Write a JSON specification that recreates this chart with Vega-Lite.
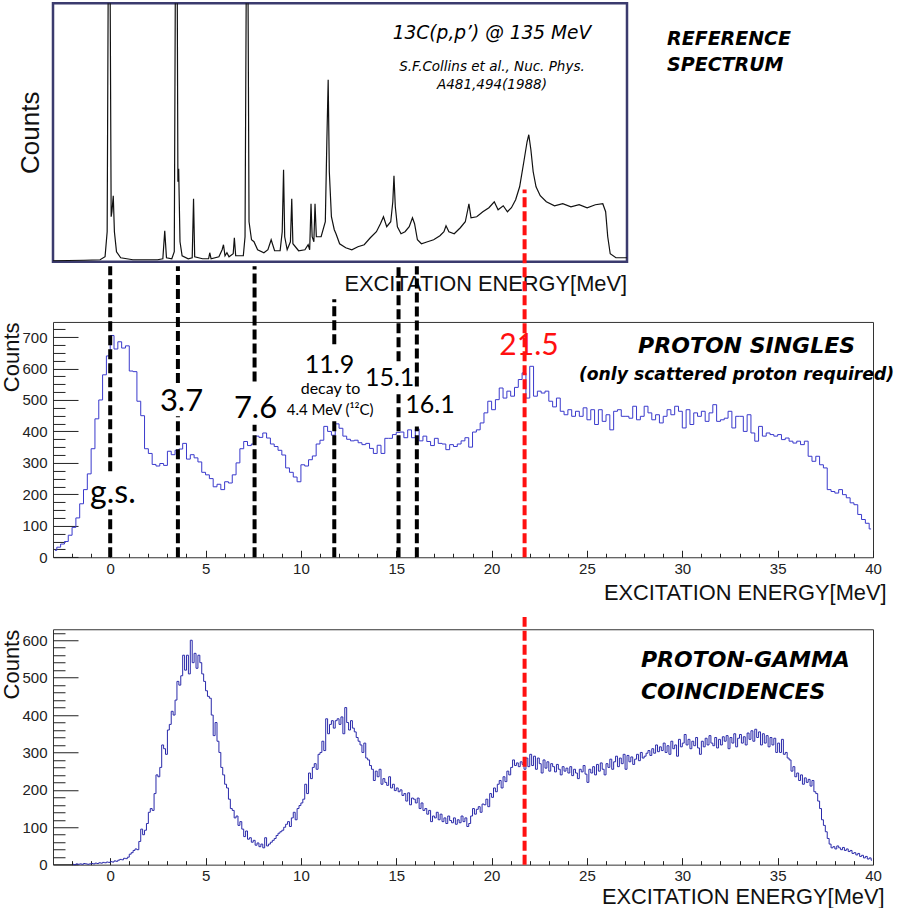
{
  "$schema": "https://vega.github.io/schema/vega-lite/v6.json",
  "padding": {"left": 0, "top": 1.25, "right": 0, "bottom": 0},
  "background": "white",
  "config": {
    "view": {"stroke": "#333", "strokeWidth": 1},
    "axis": {"grid": false, "domain": false, "labelFlush": false, "labelOverlap": false, "tickColor": "#222", "labelColor": "#222", "titleColor": "#111", "labelFont": "Liberation Sans Narrow, Liberation Sans", "labelFontSize": 15, "titleFont": "Liberation Sans", "titleFontWeight": "normal"},
    "text": {"font": "Lato", "color": "black"}
  },
  "datasets": {
    "refspec": [
      {"E":-3.0,"v":1},{"E":-1.38,"v":1.5},{"E":-0.53,"v":2},{"E":-0.27,"v":5},{"E":-0.16,"v":30},{"E":-0.10,"v":300},{"E":-0.01,"v":300},{"E":0.05,"v":45},{"E":0.09,"v":50},{"E":0.16,"v":66},{"E":0.22,"v":30},{"E":0.33,"v":10},{"E":0.55,"v":4},{"E":1.19,"v":2},{"E":1.83,"v":2},{"E":2.48,"v":2},{"E":2.76,"v":3},{"E":2.86,"v":31},{"E":2.95,"v":4},{"E":3.23,"v":3},{"E":3.36,"v":10},{"E":3.42,"v":300},{"E":3.51,"v":300},{"E":3.55,"v":80},{"E":3.59,"v":93},{"E":3.66,"v":20},{"E":3.77,"v":6},{"E":4.09,"v":3},{"E":4.30,"v":4},{"E":4.37,"v":63},{"E":4.43,"v":5},{"E":4.84,"v":3},{"E":5.16,"v":3},{"E":5.22,"v":9},{"E":5.29,"v":3},{"E":5.70,"v":5},{"E":5.87,"v":12},{"E":5.94,"v":17},{"E":6.02,"v":6},{"E":6.12,"v":9},{"E":6.23,"v":5},{"E":6.45,"v":8},{"E":6.51,"v":24},{"E":6.58,"v":6},{"E":6.98,"v":6},{"E":7.07,"v":25},{"E":7.14,"v":300},{"E":7.22,"v":300},{"E":7.28,"v":40},{"E":7.41,"v":22},{"E":7.54,"v":20},{"E":7.73,"v":12},{"E":8.06,"v":9},{"E":8.27,"v":12},{"E":8.44,"v":22},{"E":8.62,"v":11},{"E":8.91,"v":11},{"E":9.02,"v":30},{"E":9.09,"v":92},{"E":9.15,"v":25},{"E":9.28,"v":12},{"E":9.45,"v":20},{"E":9.52,"v":63},{"E":9.58,"v":18},{"E":9.88,"v":11},{"E":10.21,"v":12},{"E":10.38,"v":17},{"E":10.46,"v":12},{"E":10.53,"v":58},{"E":10.59,"v":25},{"E":10.68,"v":20},{"E":10.74,"v":58},{"E":10.81,"v":25},{"E":11.06,"v":25},{"E":11.28,"v":40},{"E":11.36,"v":120},{"E":11.43,"v":182},{"E":11.49,"v":90},{"E":11.60,"v":45},{"E":11.75,"v":32},{"E":11.84,"v":28},{"E":12.03,"v":18},{"E":12.35,"v":14},{"E":12.67,"v":12},{"E":12.99,"v":15},{"E":13.32,"v":17},{"E":13.64,"v":24},{"E":13.96,"v":30},{"E":14.17,"v":38},{"E":14.33,"v":45},{"E":14.50,"v":35},{"E":14.71,"v":40},{"E":14.82,"v":60},{"E":14.88,"v":86},{"E":14.95,"v":55},{"E":15.06,"v":35},{"E":15.25,"v":28},{"E":15.46,"v":30},{"E":15.68,"v":35},{"E":15.85,"v":44},{"E":15.96,"v":38},{"E":16.11,"v":22},{"E":16.32,"v":18},{"E":16.64,"v":20},{"E":16.96,"v":22},{"E":17.29,"v":26},{"E":17.50,"v":30},{"E":17.61,"v":36},{"E":17.76,"v":30},{"E":18.04,"v":28},{"E":18.36,"v":34},{"E":18.62,"v":40},{"E":18.75,"v":52},{"E":18.81,"v":58},{"E":18.92,"v":44},{"E":19.22,"v":45},{"E":19.54,"v":50},{"E":19.86,"v":54},{"E":20.14,"v":60},{"E":20.34,"v":52},{"E":20.61,"v":56},{"E":20.83,"v":50},{"E":21.04,"v":54},{"E":21.26,"v":62},{"E":21.47,"v":75},{"E":21.69,"v":100},{"E":21.86,"v":120},{"E":21.95,"v":127},{"E":22.06,"v":112},{"E":22.18,"v":90},{"E":22.33,"v":75},{"E":22.55,"v":66},{"E":22.87,"v":60},{"E":23.30,"v":56},{"E":23.73,"v":58},{"E":24.16,"v":55},{"E":24.59,"v":57},{"E":25.01,"v":54},{"E":25.44,"v":57},{"E":25.83,"v":58},{"E":25.98,"v":50},{"E":26.09,"v":25},{"E":26.22,"v":8},{"E":26.52,"v":4},{"E":27.16,"v":4}
    ],
    "singles": [
      {"E":-2.9,"n":22},{"E":-2.7,"n":32},{"E":-2.5,"n":42},{"E":-2.3,"n":50},{"E":-2.1,"n":70},
      {"E":-1.9,"n":95},{"E":-1.7,"n":125},{"E":-1.5,"n":170},{"E":-1.3,"n":215},{"E":-1.1,"n":265},
      {"E":-0.9,"n":345},{"E":-0.7,"n":440},{"E":-0.5,"n":500},{"E":-0.3,"n":580},{"E":-0.1,"n":640},
      {"E":0.1,"n":705},{"E":0.3,"n":662},{"E":0.5,"n":685},{"E":0.7,"n":665},{"E":0.9,"n":672},
      {"E":1.1,"n":592},{"E":1.3,"n":590},{"E":1.5,"n":496},{"E":1.7,"n":450},{"E":1.9,"n":345},
      {"E":2.1,"n":330},{"E":2.3,"n":295},{"E":2.5,"n":290},{"E":2.7,"n":298},{"E":2.9,"n":292},
      {"E":3.1,"n":337},{"E":3.3,"n":326},{"E":3.5,"n":340},{"E":3.7,"n":344},{"E":3.9,"n":362},
      {"E":4.1,"n":312},{"E":4.3,"n":326},{"E":4.5,"n":316},{"E":4.7,"n":303},{"E":4.9,"n":270},
      {"E":5.1,"n":262},{"E":5.3,"n":250},{"E":5.5,"n":224},{"E":5.7,"n":232},{"E":5.9,"n":215},
      {"E":6.1,"n":240},{"E":6.3,"n":236},{"E":6.5,"n":262},{"E":6.7,"n":300},{"E":6.9,"n":345},
      {"E":7.1,"n":368},{"E":7.3,"n":355},{"E":7.5,"n":360},{"E":7.7,"n":385},{"E":7.9,"n":381},
      {"E":8.1,"n":395},{"E":8.3,"n":379},{"E":8.5,"n":360},{"E":8.7,"n":352},{"E":8.9,"n":340},
      {"E":9.1,"n":325},{"E":9.3,"n":284},{"E":9.5,"n":270},{"E":9.7,"n":255},{"E":9.9,"n":240},
      {"E":10.1,"n":294},{"E":10.3,"n":290},{"E":10.5,"n":310},{"E":10.7,"n":322},{"E":10.9,"n":360},
      {"E":11.1,"n":372},{"E":11.3,"n":416},{"E":11.5,"n":400},{"E":11.7,"n":388},{"E":11.9,"n":424},
      {"E":12.1,"n":410},{"E":12.3,"n":385},{"E":12.5,"n":375},{"E":12.7,"n":370},{"E":12.9,"n":372},
      {"E":13.1,"n":364},{"E":13.3,"n":358},{"E":13.5,"n":362},{"E":13.7,"n":346},{"E":13.9,"n":330},
      {"E":14.1,"n":356},{"E":14.3,"n":330},{"E":14.5,"n":378},{"E":14.7,"n":378},{"E":14.9,"n":390},
      {"E":15.1,"n":397},{"E":15.3,"n":398},{"E":15.5,"n":380},{"E":15.7,"n":405},{"E":15.9,"n":380},
      {"E":16.1,"n":408},{"E":16.3,"n":370},{"E":16.5,"n":385},{"E":16.7,"n":368},{"E":16.9,"n":355},
      {"E":17.1,"n":378},{"E":17.3,"n":362},{"E":17.5,"n":360},{"E":17.7,"n":342},{"E":17.9,"n":358},
      {"E":18.1,"n":352},{"E":18.3,"n":360},{"E":18.5,"n":370},{"E":18.7,"n":380},{"E":18.9,"n":350},
      {"E":19.1,"n":398},{"E":19.3,"n":405},{"E":19.5,"n":427},{"E":19.7,"n":459},{"E":19.9,"n":496},
      {"E":20.1,"n":469},{"E":20.3,"n":501},{"E":20.5,"n":538},{"E":20.7,"n":506},{"E":20.9,"n":528},
      {"E":21.1,"n":512},{"E":21.3,"n":540},{"E":21.5,"n":565},{"E":21.7,"n":586},{"E":21.9,"n":506},
      {"E":22.1,"n":607},{"E":22.3,"n":512},{"E":22.5,"n":528},{"E":22.7,"n":522},{"E":22.9,"n":528},
      {"E":23.1,"n":496},{"E":23.3,"n":478},{"E":23.5,"n":506},{"E":23.7,"n":464},{"E":23.9,"n":453},
      {"E":24.1,"n":469},{"E":24.3,"n":448},{"E":24.5,"n":464},{"E":24.7,"n":448},{"E":24.9,"n":475},
      {"E":25.1,"n":437},{"E":25.3,"n":469},{"E":25.5,"n":422},{"E":25.7,"n":469},{"E":25.9,"n":432},
      {"E":26.1,"n":453},{"E":26.3,"n":405},{"E":26.5,"n":464},{"E":26.7,"n":469},{"E":26.9,"n":448},
      {"E":27.1,"n":448},{"E":27.3,"n":442},{"E":27.5,"n":480},{"E":27.7,"n":437},{"E":27.9,"n":448},
      {"E":28.1,"n":480},{"E":28.3,"n":459},{"E":28.5,"n":437},{"E":28.7,"n":453},{"E":28.9,"n":427},
      {"E":29.1,"n":448},{"E":29.3,"n":469},{"E":29.5,"n":453},{"E":29.7,"n":480},{"E":29.9,"n":464},
      {"E":30.1,"n":411},{"E":30.3,"n":469},{"E":30.5,"n":422},{"E":30.7,"n":459},{"E":30.9,"n":448},
      {"E":31.1,"n":464},{"E":31.3,"n":432},{"E":31.5,"n":459},{"E":31.7,"n":485},{"E":31.9,"n":432},
      {"E":32.1,"n":437},{"E":32.3,"n":442},{"E":32.5,"n":464},{"E":32.7,"n":411},{"E":32.9,"n":448},
      {"E":33.1,"n":448},{"E":33.3,"n":400},{"E":33.5,"n":453},{"E":33.7,"n":395},{"E":33.9,"n":369},
      {"E":34.1,"n":416},{"E":34.3,"n":385},{"E":34.5,"n":395},{"E":34.7,"n":390},{"E":34.9,"n":385},
      {"E":35.1,"n":390},{"E":35.3,"n":374},{"E":35.5,"n":379},{"E":35.7,"n":369},{"E":35.9,"n":363},
      {"E":36.1,"n":369},{"E":36.3,"n":358},{"E":36.5,"n":369},{"E":36.7,"n":321},{"E":36.9,"n":305},
      {"E":37.1,"n":321},{"E":37.3,"n":294},{"E":37.5,"n":284},{"E":37.7,"n":215},{"E":37.9,"n":209},
      {"E":38.1,"n":204},{"E":38.3,"n":215},{"E":38.5,"n":199},{"E":38.7,"n":189},{"E":38.9,"n":173},
      {"E":39.1,"n":167},{"E":39.3,"n":136},{"E":39.5,"n":120},{"E":39.7,"n":108},{"E":39.9,"n":90}
    ],
    "gamma": [
      {"E":-1.95,"n":1},{"E":-1.85,"n":0},{"E":-1.75,"n":2},{"E":-1.65,"n":1},{"E":-1.55,"n":2},{"E":-1.45,"n":1},{"E":-1.35,"n":3},{"E":-1.25,"n":2},{"E":-1.15,"n":1},{"E":-1.05,"n":2},
      {"E":-0.95,"n":3},{"E":-0.85,"n":2},{"E":-0.75,"n":4},{"E":-0.65,"n":3},{"E":-0.55,"n":5},{"E":-0.45,"n":4},{"E":-0.35,"n":6},{"E":-0.25,"n":5},{"E":-0.15,"n":7},{"E":-0.05,"n":6},
      {"E":0.05,"n":8},{"E":0.15,"n":7},{"E":0.25,"n":10},{"E":0.35,"n":9},{"E":0.45,"n":12},{"E":0.55,"n":14},{"E":0.65,"n":13},{"E":0.75,"n":17},{"E":0.85,"n":16},{"E":0.95,"n":20},
      {"E":1.05,"n":28},{"E":1.15,"n":32},{"E":1.25,"n":38},{"E":1.35,"n":42},{"E":1.45,"n":40},{"E":1.55,"n":62},{"E":1.65,"n":95},{"E":1.75,"n":80},{"E":1.85,"n":92},{"E":1.95,"n":110},
      {"E":2.05,"n":140},{"E":2.15,"n":150},{"E":2.25,"n":145},{"E":2.35,"n":190},{"E":2.45,"n":240},{"E":2.55,"n":235},{"E":2.65,"n":260},{"E":2.75,"n":320},{"E":2.85,"n":310},{"E":2.95,"n":295},
      {"E":3.05,"n":360},{"E":3.15,"n":375},{"E":3.25,"n":410},{"E":3.35,"n":400},{"E":3.45,"n":440},{"E":3.55,"n":490},{"E":3.65,"n":480},{"E":3.75,"n":505},{"E":3.85,"n":560},{"E":3.95,"n":520},
      {"E":4.05,"n":560},{"E":4.15,"n":510},{"E":4.25,"n":600},{"E":4.35,"n":540},{"E":4.45,"n":565},{"E":4.55,"n":525},{"E":4.65,"n":560},{"E":4.75,"n":540},{"E":4.85,"n":510},{"E":4.95,"n":490},
      {"E":5.05,"n":465},{"E":5.15,"n":450},{"E":5.25,"n":445},{"E":5.35,"n":400},{"E":5.45,"n":345},{"E":5.55,"n":380},{"E":5.65,"n":330},{"E":5.75,"n":300},{"E":5.85,"n":260},{"E":5.95,"n":240},
      {"E":6.05,"n":215},{"E":6.15,"n":205},{"E":6.25,"n":175},{"E":6.35,"n":150},{"E":6.45,"n":145},{"E":6.55,"n":125},{"E":6.65,"n":130},{"E":6.75,"n":105},{"E":6.85,"n":115},{"E":6.95,"n":95},
      {"E":7.05,"n":75},{"E":7.15,"n":90},{"E":7.25,"n":68},{"E":7.35,"n":72},{"E":7.45,"n":60},{"E":7.55,"n":65},{"E":7.65,"n":52},{"E":7.75,"n":58},{"E":7.85,"n":48},{"E":7.95,"n":55},
      {"E":8.05,"n":45},{"E":8.15,"n":72},{"E":8.25,"n":50},{"E":8.35,"n":55},{"E":8.45,"n":60},{"E":8.55,"n":65},{"E":8.65,"n":70},{"E":8.75,"n":78},{"E":8.85,"n":84},{"E":8.95,"n":88},
      {"E":9.05,"n":92},{"E":9.15,"n":100},{"E":9.25,"n":108},{"E":9.35,"n":115},{"E":9.45,"n":102},{"E":9.55,"n":125},{"E":9.65,"n":140},{"E":9.75,"n":120},{"E":9.85,"n":150},{"E":9.95,"n":158},
      {"E":10.05,"n":165},{"E":10.15,"n":175},{"E":10.25,"n":215},{"E":10.35,"n":190},{"E":10.45,"n":245},{"E":10.55,"n":230},{"E":10.65,"n":260},{"E":10.75,"n":270},{"E":10.85,"n":255},{"E":10.95,"n":295},
      {"E":11.05,"n":300},{"E":11.15,"n":330},{"E":11.25,"n":305},{"E":11.35,"n":390},{"E":11.45,"n":350},{"E":11.55,"n":375},{"E":11.65,"n":385},{"E":11.75,"n":365},{"E":11.85,"n":385},{"E":11.95,"n":390},
      {"E":12.05,"n":375},{"E":12.15,"n":395},{"E":12.25,"n":350},{"E":12.35,"n":420},{"E":12.45,"n":380},{"E":12.55,"n":360},{"E":12.65,"n":385},{"E":12.75,"n":365},{"E":12.85,"n":355},{"E":12.95,"n":340},
      {"E":13.05,"n":330},{"E":13.15,"n":320},{"E":13.25,"n":300},{"E":13.35,"n":325},{"E":13.45,"n":285},{"E":13.55,"n":280},{"E":13.65,"n":265},{"E":13.75,"n":255},{"E":13.85,"n":225},{"E":13.95,"n":250},
      {"E":14.05,"n":235},{"E":14.15,"n":255},{"E":14.25,"n":215},{"E":14.35,"n":230},{"E":14.45,"n":220},{"E":14.55,"n":212},{"E":14.65,"n":235},{"E":14.75,"n":205},{"E":14.85,"n":215},{"E":14.95,"n":198},
      {"E":15.05,"n":205},{"E":15.15,"n":195},{"E":15.25,"n":200},{"E":15.35,"n":185},{"E":15.45,"n":190},{"E":15.55,"n":170},{"E":15.65,"n":192},{"E":15.75,"n":160},{"E":15.85,"n":178},{"E":15.95,"n":175},
      {"E":16.05,"n":165},{"E":16.15,"n":178},{"E":16.25,"n":150},{"E":16.35,"n":165},{"E":16.45,"n":145},{"E":16.55,"n":150},{"E":16.65,"n":135},{"E":16.75,"n":145},{"E":16.85,"n":115},{"E":16.95,"n":130},
      {"E":17.05,"n":125},{"E":17.15,"n":140},{"E":17.25,"n":120},{"E":17.35,"n":135},{"E":17.45,"n":115},{"E":17.55,"n":125},{"E":17.65,"n":110},{"E":17.75,"n":130},{"E":17.85,"n":118},{"E":17.95,"n":112},
      {"E":18.05,"n":125},{"E":18.15,"n":108},{"E":18.25,"n":120},{"E":18.35,"n":112},{"E":18.45,"n":130},{"E":18.55,"n":115},{"E":18.65,"n":125},{"E":18.75,"n":102},{"E":18.85,"n":110},{"E":18.95,"n":130},
      {"E":19.05,"n":150},{"E":19.15,"n":135},{"E":19.25,"n":148},{"E":19.35,"n":155},{"E":19.45,"n":140},{"E":19.55,"n":162},{"E":19.65,"n":160},{"E":19.75,"n":175},{"E":19.85,"n":155},{"E":19.95,"n":190},
      {"E":20.05,"n":180},{"E":20.15,"n":205},{"E":20.25,"n":195},{"E":20.35,"n":215},{"E":20.45,"n":225},{"E":20.55,"n":205},{"E":20.65,"n":235},{"E":20.75,"n":222},{"E":20.85,"n":250},{"E":20.95,"n":240},
      {"E":21.05,"n":260},{"E":21.15,"n":280},{"E":21.25,"n":265},{"E":21.35,"n":272},{"E":21.45,"n":262},{"E":21.55,"n":275},{"E":21.65,"n":268},{"E":21.75,"n":255},{"E":21.85,"n":285},{"E":21.95,"n":262},
      {"E":22.05,"n":295},{"E":22.15,"n":265},{"E":22.25,"n":290},{"E":22.35,"n":255},{"E":22.45,"n":285},{"E":22.55,"n":270},{"E":22.65,"n":245},{"E":22.75,"n":280},{"E":22.85,"n":258},{"E":22.95,"n":275},
      {"E":23.05,"n":250},{"E":23.15,"n":270},{"E":23.25,"n":262},{"E":23.35,"n":248},{"E":23.45,"n":268},{"E":23.55,"n":255},{"E":23.65,"n":240},{"E":23.75,"n":262},{"E":23.85,"n":250},{"E":23.95,"n":258},
      {"E":24.05,"n":245},{"E":24.15,"n":262},{"E":24.25,"n":238},{"E":24.35,"n":255},{"E":24.45,"n":245},{"E":24.55,"n":230},{"E":24.65,"n":255},{"E":24.75,"n":248},{"E":24.85,"n":265},{"E":24.95,"n":242},
      {"E":25.05,"n":220},{"E":25.15,"n":255},{"E":25.25,"n":245},{"E":25.35,"n":262},{"E":25.45,"n":240},{"E":25.55,"n":268},{"E":25.65,"n":250},{"E":25.75,"n":272},{"E":25.85,"n":255},{"E":25.95,"n":240},
      {"E":26.05,"n":270},{"E":26.15,"n":260},{"E":26.25,"n":282},{"E":26.35,"n":255},{"E":26.45,"n":275},{"E":26.55,"n":290},{"E":26.65,"n":262},{"E":26.75,"n":285},{"E":26.85,"n":270},{"E":26.95,"n":295},
      {"E":27.05,"n":255},{"E":27.15,"n":292},{"E":27.25,"n":275},{"E":27.35,"n":288},{"E":27.45,"n":268},{"E":27.55,"n":282},{"E":27.65,"n":295},{"E":27.75,"n":278},{"E":27.85,"n":300},{"E":27.95,"n":285},
      {"E":28.05,"n":290},{"E":28.15,"n":298},{"E":28.25,"n":305},{"E":28.35,"n":292},{"E":28.45,"n":310},{"E":28.55,"n":298},{"E":28.65,"n":320},{"E":28.75,"n":302},{"E":28.85,"n":315},{"E":28.95,"n":305},
      {"E":29.05,"n":325},{"E":29.15,"n":300},{"E":29.25,"n":318},{"E":29.35,"n":295},{"E":29.45,"n":330},{"E":29.55,"n":310},{"E":29.65,"n":320},{"E":29.75,"n":290},{"E":29.85,"n":335},{"E":29.95,"n":315},
      {"E":30.05,"n":325},{"E":30.15,"n":348},{"E":30.25,"n":320},{"E":30.35,"n":335},{"E":30.45,"n":310},{"E":30.55,"n":330},{"E":30.65,"n":318},{"E":30.75,"n":340},{"E":30.85,"n":312},{"E":30.95,"n":295},
      {"E":31.05,"n":330},{"E":31.15,"n":315},{"E":31.25,"n":338},{"E":31.35,"n":320},{"E":31.45,"n":345},{"E":31.55,"n":325},{"E":31.65,"n":318},{"E":31.75,"n":340},{"E":31.85,"n":312},{"E":31.95,"n":335},
      {"E":32.05,"n":320},{"E":32.15,"n":342},{"E":32.25,"n":330},{"E":32.35,"n":345},{"E":32.45,"n":310},{"E":32.55,"n":340},{"E":32.65,"n":325},{"E":32.75,"n":350},{"E":32.85,"n":315},{"E":32.95,"n":338},
      {"E":33.05,"n":348},{"E":33.15,"n":325},{"E":33.25,"n":342},{"E":33.35,"n":320},{"E":33.45,"n":352},{"E":33.55,"n":335},{"E":33.65,"n":358},{"E":33.75,"n":330},{"E":33.85,"n":362},{"E":33.95,"n":340},
      {"E":34.05,"n":355},{"E":34.15,"n":320},{"E":34.25,"n":350},{"E":34.35,"n":325},{"E":34.45,"n":345},{"E":34.55,"n":315},{"E":34.65,"n":340},{"E":34.75,"n":320},{"E":34.85,"n":338},{"E":34.95,"n":300},
      {"E":35.05,"n":325},{"E":35.15,"n":300},{"E":35.25,"n":335},{"E":35.35,"n":295},{"E":35.45,"n":300},{"E":35.55,"n":285},{"E":35.65,"n":280},{"E":35.75,"n":250},{"E":35.85,"n":262},{"E":35.95,"n":235},
      {"E":36.05,"n":245},{"E":36.15,"n":225},{"E":36.25,"n":240},{"E":36.35,"n":215},{"E":36.45,"n":232},{"E":36.55,"n":220},{"E":36.65,"n":228},{"E":36.75,"n":210},{"E":36.85,"n":225},{"E":36.95,"n":195},
      {"E":37.05,"n":190},{"E":37.15,"n":170},{"E":37.25,"n":150},{"E":37.35,"n":120},{"E":37.45,"n":105},{"E":37.55,"n":88},{"E":37.65,"n":70},{"E":37.75,"n":55},{"E":37.85,"n":45},{"E":37.95,"n":48},
      {"E":38.05,"n":42},{"E":38.15,"n":50},{"E":38.25,"n":45},{"E":38.35,"n":40},{"E":38.45,"n":46},{"E":38.55,"n":38},{"E":38.65,"n":42},{"E":38.75,"n":35},{"E":38.85,"n":38},{"E":38.95,"n":30},
      {"E":39.05,"n":32},{"E":39.15,"n":26},{"E":39.25,"n":30},{"E":39.35,"n":22},{"E":39.45,"n":25},{"E":39.55,"n":18},{"E":39.65,"n":22},{"E":39.75,"n":15},{"E":39.85,"n":18},{"E":39.95,"n":12}
    ],
    "blackLines": [
      {"state":"g.s.","E":0.0,"lo":0,"hi":152},{"state":"g.s.","E":0.0,"lo":273,"hi":925},
      {"state":"3.7","E":3.55,"lo":0,"hi":448},{"state":"3.7","E":3.55,"lo":554,"hi":925},
      {"state":"7.6","E":7.57,"lo":0,"hi":421},{"state":"7.6","E":7.57,"lo":559,"hi":925},
      {"state":"11.9","E":11.75,"lo":0,"hi":432},{"state":"11.9","E":11.75,"lo":677,"hi":820},
      {"state":"15.1","E":15.12,"lo":0,"hi":518},{"state":"15.1","E":15.12,"lo":623,"hi":925},
      {"state":"16.1","E":16.08,"lo":0,"hi":416},{"state":"16.1","E":16.08,"lo":543,"hi":925}
    ],
    "redMid": [{"state":"21.5","E":21.73,"lo":0,"hi":1169}],
    "redBot": [{"state":"21.5","E":21.73,"lo":0,"hi":662}]
  },
  "bounds": "flush",
  "spacing": 59.7,
  "vconcat": [
    {
      "width": 574,
      "height": 258.5,
      "view": {"stroke": "#3b3b6e", "strokeWidth": 2.5},
      "resolve": {"axis": {"x": "independent", "y": "independent"}},
      "layer": [
        {
          "data": {"name": "refspec"},
          "mark": {"type": "line", "color": "#111", "strokeWidth": 1.2, "clip": true},
          "encoding": {
            "x": {"field": "E", "type": "quantitative", "scale": {"domain": [-3, 27.1], "nice": false, "zero": false},
                  "axis": {"orient": "bottom", "values": [0], "ticks": true, "tickSize": 0, "tickColor": "transparent", "labels": false, "title": "EXCITATION ENERGY[MeV]", "titleFontSize": 21.8, "titleX": 573.5, "titleY": 29, "titleAlign": "right", "titleBaseline": "alphabetic"}},
            "y": {"field": "v", "type": "quantitative", "scale": {"domain": [0, 258.5], "nice": false},
                  "axis": {"orient": "left", "values": [0], "ticks": true, "tickSize": 0, "tickColor": "transparent", "labels": false, "title": "Counts", "titleFontSize": 26, "titleX": -14.5, "titleY": 129, "titleAngle": 270, "titleAlign": "center", "titleBaseline": "alphabetic"}}
          }
        },
        {
          "data": {"values": [{"label": "13C(p,p’) @ 135 MeV", "E": 20.02, "v": 223}]},
          "mark": {"type": "text", "font": "DejaVu Sans", "fontStyle": "italic", "fontSize": 18.6, "align": "center", "baseline": "alphabetic"},
          "encoding": {"x": {"field": "E", "type": "quantitative", "axis": null}, "y": {"field": "v", "type": "quantitative", "axis": null}, "text": {"field": "label"}}
        },
        {
          "data": {"values": [{"label": "S.F.Collins et al., Nuc. Phys.", "E": 20.02, "v": 190.5}, {"label": "A481,494(1988)", "E": 20.02, "v": 173}]},
          "mark": {"type": "text", "font": "DejaVu Sans", "fontStyle": "italic", "fontSize": 13.5, "align": "center", "baseline": "alphabetic"},
          "encoding": {"x": {"field": "E", "type": "quantitative", "axis": null}, "y": {"field": "v", "type": "quantitative", "axis": null}, "text": {"field": "label"}}
        },
        {
          "data": {"values": [{"label": "REFERENCE", "E": 29.2, "v": 217}, {"label": "SPECTRUM", "E": 29.2, "v": 191}]},
          "mark": {"type": "text", "font": "DejaVu Sans", "fontStyle": "italic", "fontWeight": "bold", "fontSize": 19, "align": "left", "baseline": "alphabetic"},
          "encoding": {"x": {"field": "E", "type": "quantitative", "axis": null}, "y": {"field": "v", "type": "quantitative", "axis": null}, "text": {"field": "label"}}
        }
      ]
    },
    {
      "bounds": "flush",
      "spacing": 71.3,
      "vconcat": [
        {
          "width": 820,
          "height": 235.3,
          "resolve": {"axis": {"x": "independent", "y": "independent"}},
          "layer": [
            {
              "data": {"name": "singles"},
              "mark": {"type": "line", "interpolate": "step", "color": "#3a3acc", "strokeWidth": 1},
              "encoding": {
                "x": {"field": "E", "type": "quantitative", "scale": {"domain": [-3, 40], "nice": false, "zero": false},
                      "axis": {"orient": "bottom", "values": [0,5,10,15,20,25,30,35,40], "format": "d", "tickSize": -7, "labelPadding": 11, "labelAngle": 0, "title": "EXCITATION ENERGY[MeV]", "titleFontSize": 21.8, "titleX": 833, "titleY": 42, "titleAlign": "right", "titleBaseline": "alphabetic"}},
                "y": {"field": "n", "type": "quantitative", "scale": {"domain": [0, 748], "nice": false},
                      "axis": {"orient": "left", "values": [0,100,200,300,400,500,600,700], "format": "d", "tickSize": -25, "labelPadding": 31, "title": "Counts", "titleFontSize": 22, "titleX": -34.5, "titleY": 0, "titleAngle": 270, "titleAlign": "right", "titleBaseline": "alphabetic"}}
              }
            },
            {
              "data": {"name": "blackLines"},
              "mark": {"type": "rule", "color": "black", "strokeWidth": 4, "strokeDash": [10, 4]},
              "encoding": {
                "x": {"field": "E", "type": "quantitative",
                      "axis": {"orient": "bottom", "values": [-2,-1,1,2,3,4,6,7,8,9,11,12,13,14,16,17,18,19,21,22,23,24,26,27,28,29,31,32,33,34,36,37,38,39], "tickSize": -4, "labels": false, "title": null}},
                "y": {"field": "lo", "type": "quantitative",
                      "axis": {"orient": "left", "values": [25,50,75,125,150,175,225,250,275,325,350,375,425,450,475,525,550,575,625,650,675,725], "tickSize": -12, "labels": false, "title": null}},
                "y2": {"field": "hi"}
              }
            },
            {
              "data": {"name": "redMid"},
              "mark": {"type": "rule", "color": "#ff1010", "strokeWidth": 4, "strokeDash": [10, 4]},
              "encoding": {
                "x": {"field": "E", "type": "quantitative", "axis": null},
                "y": {"field": "lo", "type": "quantitative", "axis": null},
                "y2": {"field": "hi"}
              }
            },
            {
              "data": {"values": [{"label": "3.7", "E": 3.74, "n": 464}, {"label": "7.6", "E": 7.62, "n": 443}]},
              "mark": {"type": "text", "font": "Lato", "fontSize": 31, "align": "center", "baseline": "alphabetic"},
              "encoding": {"x": {"field": "E", "type": "quantitative", "axis": null}, "y": {"field": "n", "type": "quantitative", "axis": null}, "text": {"field": "label"}}
            },
            {
              "data": {"values": [{"label": "g.s.", "E": 0.14, "n": 172}]},
              "mark": {"type": "text", "font": "Lato", "fontSize": 32, "align": "center", "baseline": "alphabetic"},
              "encoding": {"x": {"field": "E", "type": "quantitative", "axis": null}, "y": {"field": "n", "type": "quantitative", "axis": null}, "text": {"field": "label"}}
            },
            {
              "data": {"values": [{"label": "11.9", "E": 11.5, "n": 586}, {"label": "15.1", "E": 14.65, "n": 543}, {"label": "16.1", "E": 16.77, "n": 457}]},
              "mark": {"type": "text", "font": "Lato", "fontSize": 25, "align": "center", "baseline": "alphabetic"},
              "encoding": {"x": {"field": "E", "type": "quantitative", "axis": null}, "y": {"field": "n", "type": "quantitative", "axis": null}, "text": {"field": "label"}}
            },
            {
              "data": {"values": [{"label": "decay to", "E": 11.55, "n": 519}]},
              "mark": {"type": "text", "font": "Lato", "fontSize": 16, "align": "center", "baseline": "alphabetic"},
              "encoding": {"x": {"field": "E", "type": "quantitative", "axis": null}, "y": {"field": "n", "type": "quantitative", "axis": null}, "text": {"field": "label"}}
            },
            {
              "data": {"values": [{"label": "4.4 MeV (¹²C)", "E": 11.53, "n": 453}]},
              "mark": {"type": "text", "font": "Lato", "fontSize": 15, "align": "center", "baseline": "alphabetic"},
              "encoding": {"x": {"field": "E", "type": "quantitative", "axis": null}, "y": {"field": "n", "type": "quantitative", "axis": null}, "text": {"field": "label"}}
            },
            {
              "data": {"values": [{"label": "21.5", "E": 21.96, "n": 642}]},
              "mark": {"type": "text", "font": "Lato", "fontSize": 30, "align": "center", "baseline": "alphabetic", "color": "#ff1010"},
              "encoding": {"x": {"field": "E", "type": "quantitative", "axis": null}, "y": {"field": "n", "type": "quantitative", "axis": null}, "text": {"field": "label"}}
            },
            {
              "data": {"values": [{"label": "PROTON SINGLES", "E": 39.06, "n": 649}]},
              "mark": {"type": "text", "font": "DejaVu Sans", "fontStyle": "italic", "fontWeight": "bold", "fontSize": 22, "align": "right", "baseline": "alphabetic"},
              "encoding": {"x": {"field": "E", "type": "quantitative", "axis": null}, "y": {"field": "n", "type": "quantitative", "axis": null}, "text": {"field": "label"}}
            },
            {
              "data": {"values": [{"label": "(only scattered proton required)", "E": 24.58, "n": 565}]},
              "mark": {"type": "text", "font": "DejaVu Sans", "fontStyle": "italic", "fontWeight": "bold", "fontSize": 17.2, "align": "left", "baseline": "alphabetic"},
              "encoding": {"x": {"field": "E", "type": "quantitative", "axis": null}, "y": {"field": "n", "type": "quantitative", "axis": null}, "text": {"field": "label"}}
            }
          ]
        },
        {
          "width": 820,
          "height": 235.4,
          "resolve": {"axis": {"x": "independent", "y": "independent"}},
          "layer": [
            {
              "data": {"name": "gamma"},
              "mark": {"type": "line", "interpolate": "step", "color": "#2a2aaa", "strokeWidth": 1},
              "encoding": {
                "x": {"field": "E", "type": "quantitative", "scale": {"domain": [-3, 40], "nice": false, "zero": false},
                      "axis": {"orient": "bottom", "values": [0,5,10,15,20,25,30,35,40], "format": "d", "tickSize": -7, "labelPadding": 11, "labelAngle": 0, "title": "EXCITATION ENERGY[MeV]", "titleFontSize": 21.8, "titleX": 831, "titleY": 39, "titleAlign": "right", "titleBaseline": "alphabetic"}},
                "y": {"field": "n", "type": "quantitative", "scale": {"domain": [0, 629.4], "nice": false},
                      "axis": {"orient": "left", "values": [0,100,200,300,400,500,600], "format": "d", "tickSize": -25, "labelPadding": 31, "title": "Counts", "titleFontSize": 22, "titleX": -34.5, "titleY": 0, "titleAngle": 270, "titleAlign": "right", "titleBaseline": "alphabetic"}}
              }
            },
            {
              "data": {"name": "redBot"},
              "mark": {"type": "rule", "color": "#ff1010", "strokeWidth": 4, "strokeDash": [10, 4]},
              "encoding": {
                "x": {"field": "E", "type": "quantitative",
                      "axis": {"orient": "bottom", "values": [-2,-1,1,2,3,4,6,7,8,9,11,12,13,14,16,17,18,19,21,22,23,24,26,27,28,29,31,32,33,34,36,37,38,39], "tickSize": -4, "labels": false, "title": null}},
                "y": {"field": "lo", "type": "quantitative",
                      "axis": {"orient": "left", "values": [20,40,60,80,120,140,160,180,220,240,260,280,320,340,360,380,420,440,460,480,520,540,560,580,620], "tickSize": -12, "labels": false, "title": null}},
                "y2": {"field": "hi"}
              }
            },
            {
              "data": {"values": [{"label": "PROTON-GAMMA", "E": 27.83, "n": 529}, {"label": "COINCIDENCES", "E": 27.83, "n": 442}]},
              "mark": {"type": "text", "font": "DejaVu Sans", "fontStyle": "italic", "fontWeight": "bold", "fontSize": 22, "align": "left", "baseline": "alphabetic"},
              "encoding": {"x": {"field": "E", "type": "quantitative", "axis": null}, "y": {"field": "n", "type": "quantitative", "axis": null}, "text": {"field": "label"}}
            }
          ]
        }
      ]
    }
  ]
}
